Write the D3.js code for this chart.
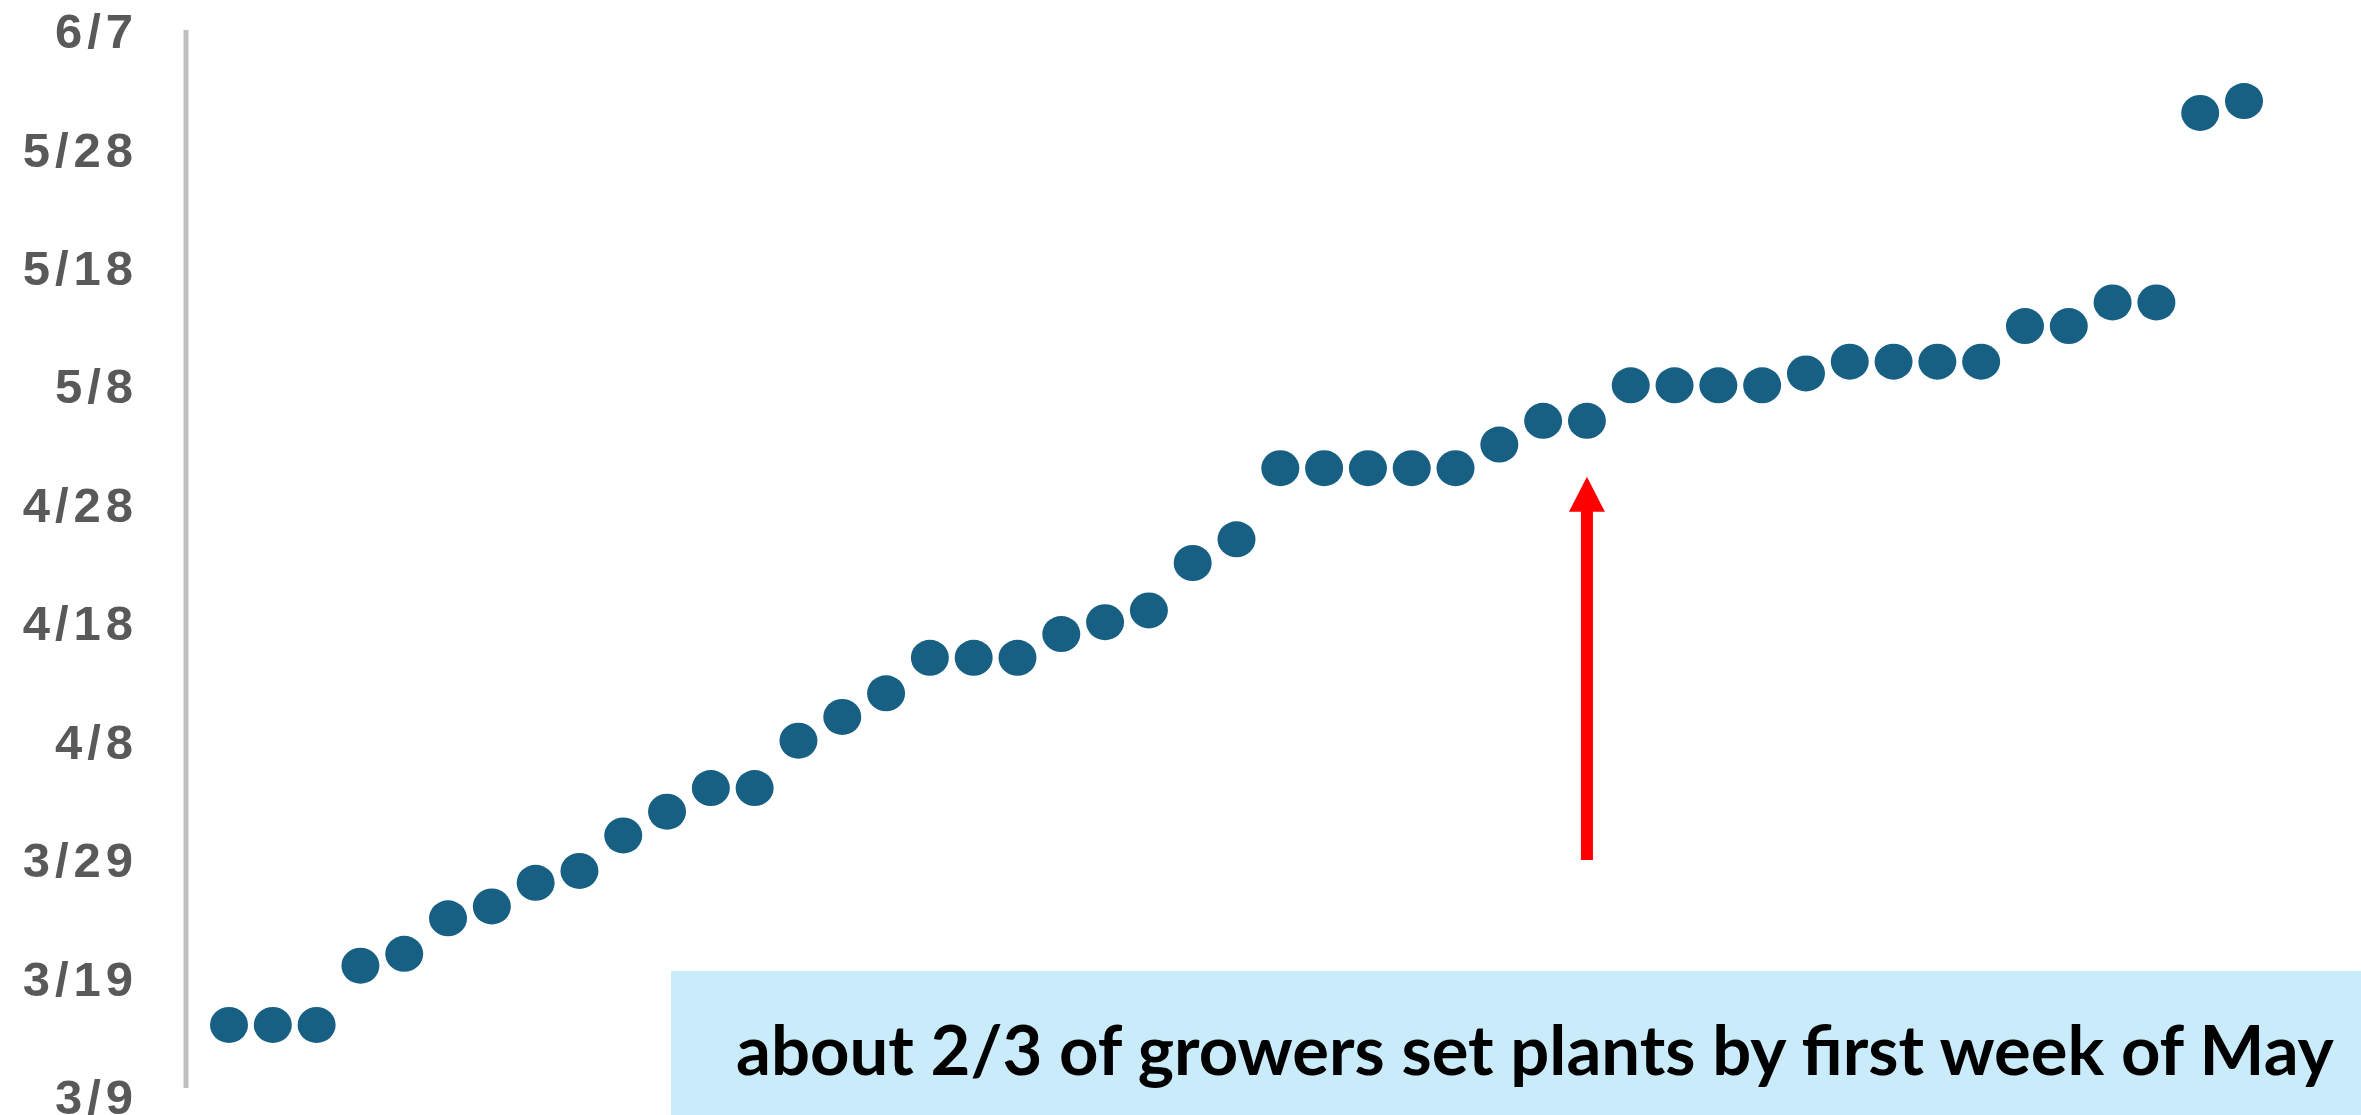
<!DOCTYPE html>
<html>
<head>
<meta charset="utf-8">
<script src="https://cdn.jsdelivr.net/npm/d3@7"></script>
<style>
    html, body { margin: 0; padding: 0; background: #fff; }
    svg { display: block; }
</style>
</head>
<body>
<div id="chart"></div>
<script>
var width = 2361;
var height = 1115;

// planting date of each grower, sorted
var plantDates = ['3/15', '3/15', '3/15', '3/20', '3/21', '3/24', '3/25', '3/27', '3/28', '3/31',
    '4/2', '4/4', '4/4', '4/8', '4/10', '4/12', '4/15', '4/15', '4/15', '4/17',
    '4/18', '4/19', '4/23', '4/25', '5/1', '5/1', '5/1', '5/1', '5/1', '5/3',
    '5/5', '5/5', '5/8', '5/8', '5/8', '5/8', '5/9', '5/10', '5/10', '5/10',
    '5/10', '5/13', '5/13', '5/15', '5/15', '5/31', '6/1'];

var yTickLabels = ['3/9', '3/19', '3/29', '4/8', '4/18', '4/28', '5/8', '5/18', '5/28', '6/7'];

var noteText = 'about 2/3 of growers set plants by first week of May';
var arrowPoint = 31; // the grower the red arrow points at

var parse = d3.timeParse('%m/%d');

function renderChart(body) {
    const svg = d3.select(body)
        .append('svg')
        .attr('width', width)
        .attr('height', height);

    const x = d3.scalePoint()
        .domain(d3.range(plantDates.length))
        .range([229, 2244]);

    const y = d3.scaleTime()
        .domain([parse(yTickLabels[0]), parse(yTickLabels[yTickLabels.length - 1])])
        .range([1096, 30]);

    // y axis
    const yAxis = svg.append('g')
        .attr('transform', 'translate(186,0)')
        .call(d3.axisLeft(y)
            .tickValues(yTickLabels.map(parse))
            .tickFormat(d3.timeFormat('%-m/%-d'))
            .tickSize(0)
            .tickPadding(48));

    yAxis.select('.domain').remove();
    yAxis.selectAll('text')
        .attr('dy', '0.36em')
        .style('font-family', '"Liberation Sans", Arial, sans-serif')
        .style('font-weight', 'bold')
        .style('font-size', '49px')
        .style('letter-spacing', '5px')
        .style('fill', '#595959');

    svg.append('line')
        .attr('x1', 186).attr('x2', 186)
        .attr('y1', y.range()[1])
        .attr('y2', y.range()[0] - 8)
        .attr('stroke', '#bfbfbf')
        .attr('stroke-width', 5);

    // annotation box
    svg.append('rect')
        .attr('x', 671)
        .attr('y', 971)
        .attr('width', width - 671)
        .attr('height', height - 971)
        .attr('fill', '#caecfa');

    const note = svg.append('text')
        .attr('x', 736)
        .attr('y', 1075)
        .style('font-family', 'Lato, "Open Sans", sans-serif')
        .style('font-weight', 'bold')
        .style('font-size', '62px')
        .style('fill', '#000')
        .text(noteText);
    // fit the note to the width it has in the picture
    const w = note.node().getComputedTextLength();
    note.style('font-size', (62 * 1598 / w) + 'px');

    // dots
    svg.append('g')
        .selectAll('ellipse')
        .data(plantDates)
        .enter()
        .append('ellipse')
        .attr('cx', (d, i) => x(i))
        .attr('cy', d => y(parse(d)))
        .attr('rx', 19)
        .attr('ry', 18)
        .attr('fill', '#186083');

    // red arrow under the 5/5 grower
    const ax = x(arrowPoint);
    const tip = y(parse(plantDates[arrowPoint])) + 56;
    svg.append('rect')
        .attr('x', ax - 6)
        .attr('y', tip + 30)
        .attr('width', 12)
        .attr('height', 860 - tip - 30)
        .attr('fill', '#ff0000');
    svg.append('path')
        .attr('d', `M${ax},${tip} L${ax + 18},${tip + 35} L${ax - 18},${tip + 35} Z`)
        .attr('fill', '#ff0000');
}

renderChart(document.getElementById('chart'));
</script>
</body>
</html>
